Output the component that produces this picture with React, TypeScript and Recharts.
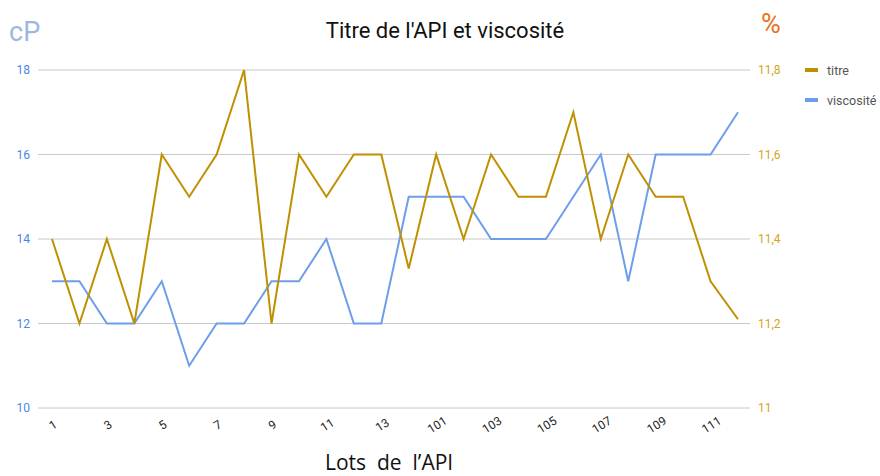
import React from 'react';
import { LineChart, Line, XAxis, YAxis, CartesianGrid } from 'recharts';

const lots = ['1','2','3','4','5','6','7','8','9','10','11','12','13','14','101','102','103','104','105','106','107','108','109','110','111','112'];
const titre = [11.4,11.2,11.4,11.2,11.6,11.5,11.6,11.8,11.2,11.6,11.5,11.6,11.6,11.33,11.6,11.4,11.6,11.5,11.5,11.7,11.4,11.6,11.5,11.5,11.3,11.21];
const viscosite = [13,13,12,12,13,11,12,12,13,13,14,12,12,15,15,15,14,14,14,15,16,13,16,16,16,17];
const leftTicks = [10,12,14,16,18];
const rightTicks = [11,11.2,11.4,11.6,11.8];

const data = lots.map((lot, i) => ({ lot, titre: titre[i], viscosite: viscosite[i] }));

const TITRE_COLOR = '#bf9000';
const VISC_COLOR = '#6d9eeb';

const XTick = (props: any) => {
  const { x, payload } = props;
  return (
    <g transform={`translate(${x + 1},${425})`}>
      <text transform="rotate(-32)" textAnchor="middle" dominantBaseline="central" fontSize={12} fill="#222" fontFamily="Roboto">
        {payload.value}
      </text>
    </g>
  );
};

export default function App() {
  return (
    <div style={{ position: 'absolute', left: 0, top: 0, width: 880, height: 476, background: '#fff', fontFamily: 'Roboto', overflow: 'hidden' }}>
      <LineChart width={880} height={476} data={data} margin={{ top: 70, right: 90, bottom: 18, left: 0 }}>
        <CartesianGrid vertical={false} stroke="#c8c8c8" yAxisId="left" />
        <XAxis dataKey="lot" interval={1} tick={<XTick />} tickLine={false} axisLine={false} height={50} padding={{ left: 14, right: 12 }} />
        <YAxis yAxisId="left" domain={[10, 18]} ticks={leftTicks} width={38} tickLine={false} axisLine={false}
          tick={{ fill: '#4a86e8', fontSize: 12, fontFamily: 'Roboto' }} />
        <YAxis yAxisId="right" orientation="right" domain={[11, 11.8]} ticks={rightTicks} width={40} tickLine={false} axisLine={false}
          tickFormatter={(v: number) => String(v).replace('.', ',')}
          tick={{ fill: '#d4a41c', fontSize: 12, fontFamily: 'Roboto', textAnchor: 'start' }} />
        <Line yAxisId="left" dataKey="viscosite" stroke={VISC_COLOR} strokeWidth={2} dot={false} isAnimationActive={false} />
        <Line yAxisId="right" dataKey="titre" stroke={TITRE_COLOR} strokeWidth={2} dot={false} isAnimationActive={false} />
      </LineChart>
      <div style={{ position: 'absolute', left: 0, width: 890, top: 18, textAlign: 'center', fontSize: 22, lineHeight: '26px', color: '#111', fontFamily: 'Roboto' }}>
        Titre de l'API et viscosité
      </div>
      <div style={{ position: 'absolute', left: 9, top: 16, fontSize: 27, color: '#9bb8e0', fontFamily: 'Roboto' }}>cP</div>
      <div style={{ position: 'absolute', left: 761, top: 8, fontSize: 27, color: '#e8711a', fontFamily: 'Roboto' }}>%</div>
      <div style={{ position: 'absolute', left: 805, top: 61, fontSize: 12.5, color: '#555', fontFamily: 'Roboto' }}>
        <div style={{ display: 'flex', alignItems: 'center', height: 18 }}>
          <span style={{ display: 'inline-block', width: 13, height: 4, background: TITRE_COLOR, marginRight: 9 }} />titre
        </div>
        <div style={{ display: 'flex', alignItems: 'center', height: 18, marginTop: 12 }}>
          <span style={{ display: 'inline-block', width: 13, height: 4, background: VISC_COLOR, marginRight: 9 }} />viscosité
        </div>
      </div>
      <div style={{ position: 'absolute', left: 325, top: 452, fontSize: 21, lineHeight: '21px', color: '#111', fontFamily: '"Open Sans"', whiteSpace: 'pre' }}>
        Lots  de  l’API
      </div>
    </div>
  );
}
